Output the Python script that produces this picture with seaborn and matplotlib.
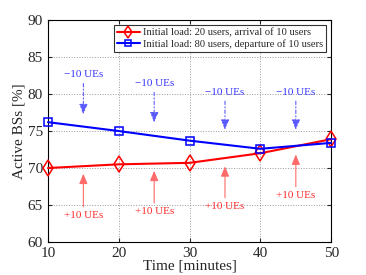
import matplotlib
matplotlib.use('Agg')
import matplotlib.pyplot as plt
import seaborn as sns
import pandas as pd

time_min = [10, 20, 30, 40, 50]
arrival = [70.0, 70.5, 70.7, 72.0, 73.9]
departure = [76.2, 75.0, 73.7, 72.6, 73.4]

label_arrival = 'Initial load: 20 users, arrival of 10 users'
label_departure = 'Initial load: 80 users, departure of 10 users'

# annotation positions: x, text y, arrow tip y
minus_x = [15, 25, 35, 45]
minus_text_y = [82.6, 81.4, 80.2, 80.2]
minus_tip_y = [76.9, 75.8, 74.8, 74.8]
plus_x = [15, 25, 35, 45]
plus_text_y = [63.6, 64.1, 64.8, 66.3]
plus_tip_y = [69.6, 70.0, 70.6, 72.2]

df = pd.DataFrame({
    'time': time_min * 2,
    'bs': arrival + departure,
    'case': [label_arrival] * 5 + [label_departure] * 5,
})

sns.set_style('ticks')
plt.rcParams['font.family'] = ['Liberation Serif', 'DejaVu Serif']

fig, ax = plt.subplots(figsize=(3.66, 2.75), dpi=100)
fig.subplots_adjust(left=0.131, right=0.905, top=0.927, bottom=0.12)

sns.lineplot(data=df, x='time', y='bs', hue='case', style='case',
             palette={label_arrival: 'red', label_departure: 'blue'},
             markers={label_arrival: 'd', label_departure: 's'},
             dashes=False, linewidth=1.5, legend=False, ax=ax)
for line, c, ms in zip(ax.lines, ['red', 'blue'], [8, 6]):
    line.set_markeredgecolor(c)
    line.set_markerfacecolor('none')
    line.set_markersize(ms)
    line.set_markeredgewidth(1.1)
    line.set_clip_on(False)
    line.set_zorder(5)

for x, ty, tip in zip(minus_x, minus_text_y, minus_tip_y):
    ax.annotate('', xy=(x, tip), xytext=(x, ty - 0.8),
                arrowprops=dict(arrowstyle='-|>,head_width=0.25,head_length=0.6',
                                color='#5a5aff', lw=0.8, linestyle=(0, (3, 2, 1, 2))))
    ax.text(x, ty, '\u221210 UEs', color='#3535ff', fontsize=8,
            ha='center', va='center')

for x, ty, tip in zip(plus_x, plus_text_y, plus_tip_y):
    ax.annotate('', xy=(x, tip), xytext=(x, ty + 0.8),
                arrowprops=dict(arrowstyle='-|>,head_width=0.25,head_length=0.6',
                                color='#ff6a6a', lw=0.8))
    ax.text(x, ty, '+10 UEs', color='#ff2a2a', fontsize=8,
            ha='center', va='center')

ax.set_xlim(10, 50)
ax.set_ylim(60, 90)
ax.set_xticks(time_min)
ax.set_yticks([60, 65, 70, 75, 80, 85, 90])
ax.grid(True, linestyle=':', color='#999999', linewidth=0.7)
ax.tick_params(labelsize=11, direction='in', length=3, top=True, right=True)
ax.set_xlabel('Time [minutes]', fontsize=11, labelpad=0)
ax.set_ylabel('Active BSs [%]', fontsize=11, labelpad=2)
for s in ax.spines.values():
    s.set_color('black')
    s.set_linewidth(0.8)

leg = ax.legend(ax.lines[:2], [label_arrival, label_departure],
                loc='upper right', fontsize=7.6, frameon=True, fancybox=False,
                edgecolor='black', borderpad=0.3, handlelength=2.2,
                handletextpad=0.3, labelspacing=0.15, borderaxespad=0.45,
                markerscale=0.75)
leg.get_frame().set_linewidth(0.8)
leg.set_zorder(10)

fig.savefig('out.png', dpi=100)
